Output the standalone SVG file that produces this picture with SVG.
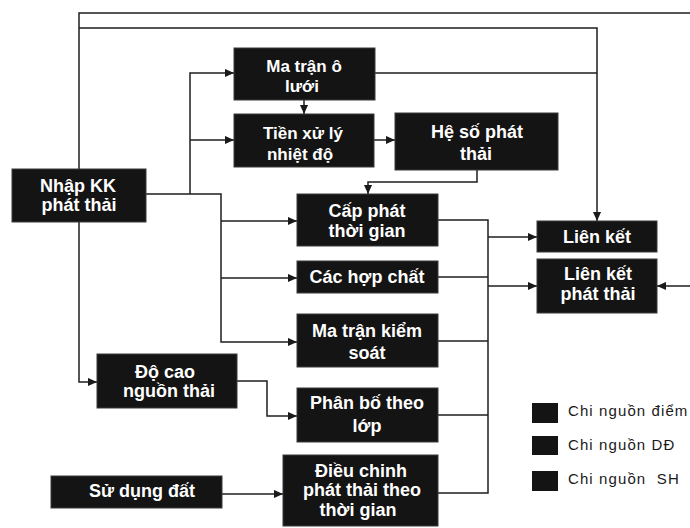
<svg xmlns="http://www.w3.org/2000/svg" width="690" height="528" viewBox="0 0 690 528">
<defs>
<marker id="ah" viewBox="0 0 10 10" refX="10" refY="5" markerWidth="9" markerHeight="9" orient="auto" markerUnits="userSpaceOnUse"><path d="M0,0.5 L10,5 L0,9.5 z" fill="#1a1a1a"/></marker>
<style>
.box{fill:#141414;stroke:#3a3a3a;stroke-width:1}
.t{font-family:"Liberation Sans",Arial,sans-serif;font-weight:bold;font-size:18px;fill:#fff;text-anchor:middle}
.s{font-size:17px}
.c{fill:none;stroke:#1e1e1e;stroke-width:1.5}
.a{fill:none;stroke:#1e1e1e;stroke-width:1.5;marker-end:url(#ah)}
.lg{font-family:"Liberation Sans",Arial,sans-serif;font-size:15px;fill:#1a1a1a;letter-spacing:1.1px}
</style>
</defs>
<rect width="690" height="528" fill="#fff"/>
<g id="connectors">
<path class="c" d="M79,169 V13 H690"/>
<path class="a" d="M79,28 H597 V221"/>
<path class="c" d="M375,73 H597"/>
<path class="a" d="M146,194 H221 V342 H297"/>
<path class="a" d="M221,221 H297"/>
<path class="a" d="M221,278 H297"/>
<path class="a" d="M190,194 V73 H234"/>
<path class="a" d="M190,140 H234"/>
<path class="a" d="M304,100 V114"/>
<path class="a" d="M374,140 H395"/>
<path class="a" d="M477,170 V182 H368 V194"/>
<path class="a" d="M79,222 V382 H97"/>
<path class="a" d="M237,381 H267 V416 H297"/>
<path class="a" d="M222,494 H283"/>
<path class="c" d="M438,220 H488 V493 H438"/>
<path class="c" d="M438,277 H488"/>
<path class="c" d="M438,341 H488"/>
<path class="c" d="M438,415 H488"/>
<path class="a" d="M488,237 H537"/>
<path class="a" d="M488,286 H537"/>
<path class="a" d="M690,286 H657"/>
</g>
<g id="ma-tran-o-luoi"><rect class="box" x="234" y="48" width="141" height="52"/><text class="t s" x="304" y="72">Ma trận ô</text><text class="t s" x="302" y="92">lưới</text></g>
<g id="tien-xu-ly"><rect class="box" x="234" y="114" width="140" height="53"/><text class="t s" x="303" y="139">Tiền xử lý</text><text class="t s" x="300" y="160">nhiệt độ</text></g>
<g id="he-so-phat-thai"><rect class="box" x="395" y="113" width="163" height="57"/><text class="t" x="477" y="138">Hệ số phát</text><text class="t" x="476" y="160">thải</text></g>
<g id="nhap-kk"><rect class="box" x="12" y="169" width="134" height="53"/><text class="t" x="78" y="192">Nhập KK</text><text class="t" x="79" y="211">phát thải</text></g>
<g id="cap-phat"><rect class="box" x="297" y="194" width="141" height="52"/><text class="t" x="367" y="217">Cấp phát</text><text class="t" x="367" y="237">thời gian</text></g>
<g id="cac-hop-chat"><rect class="box" x="297" y="261" width="141" height="32"/><text class="t" x="367" y="283">Các hợp chất</text></g>
<g id="ma-tran-kiem-soat"><rect class="box" x="297" y="314" width="141" height="53"/><text class="t" x="367" y="337">Ma trận kiểm</text><text class="t" x="367" y="359">soát</text></g>
<g id="phan-bo-theo-lop"><rect class="box" x="297" y="388" width="141" height="54"/><text class="t" x="367" y="409">Phân bố theo</text><text class="t" x="367" y="432">lớp</text></g>
<g id="dieu-chinh"><rect class="box" x="283" y="455" width="155" height="71"/><text class="t" x="361" y="477">Điều chinh</text><text class="t" x="362" y="496">phát thải theo</text><text class="t" x="358" y="516">thời gian</text></g>
<g id="do-cao"><rect class="box" x="97" y="354" width="140" height="54"/><text class="t" x="165" y="378">Độ cao</text><text class="t" x="169" y="397">nguồn thải</text></g>
<g id="su-dung-dat"><rect class="box" x="51" y="476" width="171" height="32"/><text class="t" x="142" y="497">Sử dụng đất</text></g>
<g id="lien-ket"><rect class="box" x="537" y="221" width="120" height="31"/><text class="t" x="597" y="243">Liên kết</text></g>
<g id="lien-ket-phat-thai"><rect class="box" x="537" y="259" width="120" height="54"/><text class="t" x="598" y="280">Liên kết</text><text class="t" x="598" y="300">phát thải</text></g>
<g id="legend">
<rect x="532" y="403" width="26" height="20" fill="#141414"/>
<rect x="532" y="436" width="26" height="19" fill="#141414"/>
<rect x="532" y="471" width="26" height="20" fill="#141414"/>
<text class="lg" x="568" y="416">Chi nguồn điểm</text>
<text class="lg" x="568" y="450">Chi nguồn DĐ</text>
<text class="lg" x="568" y="484" xml:space="preserve">Chi nguồn  SH</text>
</g>
</svg>
